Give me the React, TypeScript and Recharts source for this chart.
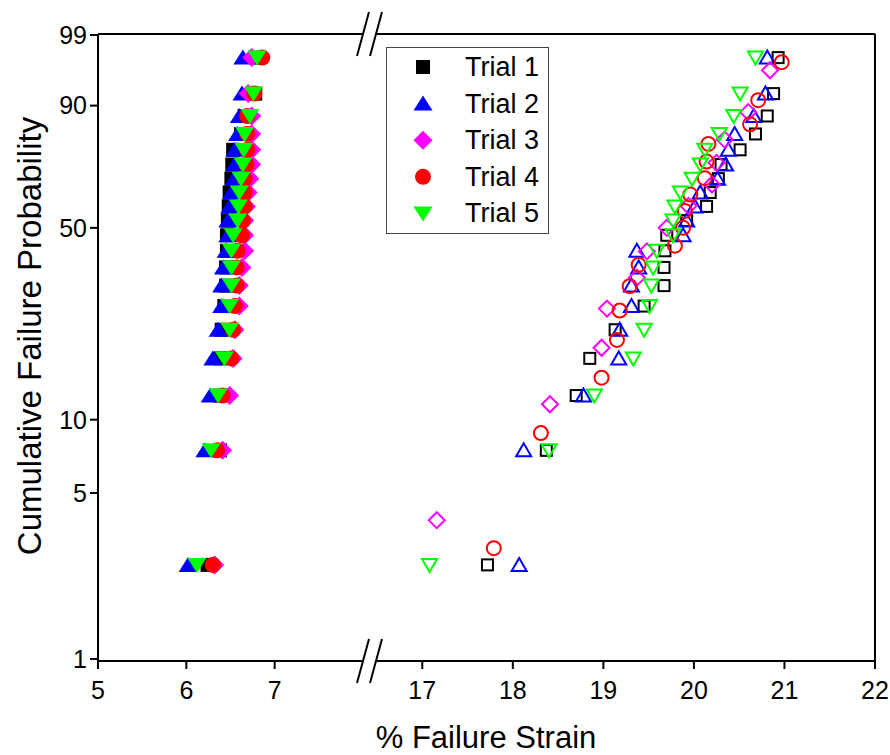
import React from "react";
import { ScatterChart, Scatter, XAxis, YAxis, ReferenceLine, Legend } from "recharts";

const FONT = '"Liberation Sans", Arial, sans-serif';

// probability axis (Weibull paper), values in %
const PROB_TICKS = [1, 5, 10, 50, 90, 99];

// plotting positions (%) for samples of 20, 17 and 13
const POS_20 = [2.5, 7.5, 12.5, 17.5, 22.5, 27.5, 32.5, 37.5, 42.5, 47.5, 52.5, 57.5, 62.5, 67.5, 72.5, 77.5, 82.5, 87.5, 92.5, 97.5];
const POS_17 = [2.94, 8.82, 14.71, 20.59, 26.47, 32.35, 38.24, 44.12, 50.0, 55.88, 61.76, 67.65, 73.53, 79.41, 85.29, 91.18, 97.06];
const POS_13 = [3.85, 11.54, 19.23, 26.92, 34.62, 42.31, 50.0, 57.69, 65.38, 73.08, 80.77, 88.46, 96.15];

const TRIAL_NAMES = ["Trial 1", "Trial 2", "Trial 3", "Trial 4", "Trial 5"];
const TRIAL_COLORS = ["#000000", "#0000ff", "#ff00ff", "#ff0000", "#00ff00"];
const TRIAL_SHAPES = ["square", "triangle", "diamond", "circle", "triangleDown"];

// low-strain failures (%), ranked
const LOW_T1 = [6.24, 6.38, 6.38, 6.39, 6.40, 6.43, 6.45, 6.45, 6.46, 6.46, 6.47, 6.48, 6.49, 6.51, 6.52, 6.53, 6.62, 6.66, 6.78, 6.80];
const LOW_T2 = [6.02, 6.21, 6.27, 6.30, 6.36, 6.40, 6.40, 6.42, 6.45, 6.47, 6.47, 6.49, 6.51, 6.54, 6.55, 6.55, 6.58, 6.60, 6.63, 6.64];
const LOW_T3 = [6.32, 6.41, 6.49, 6.53, 6.55, 6.60, 6.60, 6.63, 6.66, 6.66, 6.66, 6.68, 6.70, 6.72, 6.74, 6.74, 6.74, 6.74, 6.70, 6.74];
const LOW_T4 = [6.30, 6.35, 6.41, 6.51, 6.53, 6.55, 6.57, 6.57, 6.58, 6.63, 6.64, 6.66, 6.66, 6.66, 6.68, 6.69, 6.69, 6.69, 6.77, 6.86];
const LOW_T5 = [6.12, 6.28, 6.36, 6.43, 6.49, 6.49, 6.51, 6.51, 6.51, 6.53, 6.58, 6.59, 6.60, 6.62, 6.64, 6.65, 6.66, 6.72, 6.76, 6.80];

// high-strain failures (%), ranked
const HIGH_T1 = [17.72, 18.37, 18.70, 18.85, 19.13, 19.45, 19.67, 19.67, 19.68, 19.70, 19.92, 20.14, 20.18, 20.27, 20.30, 20.51, 20.68, 20.81, 20.88, 20.93];
const HIGH_T2 = [18.07, 18.12, 18.78, 19.17, 19.18, 19.31, 19.31, 19.39, 19.37, 19.88, 19.92, 20.01, 20.07, 20.26, 20.35, 20.38, 20.45, 20.66, 20.79, 20.81];
const HIGH_T3 = [17.16, 18.41, 18.98, 19.04, 19.37, 19.48, 19.70, 19.94, 20.20, 20.25, 20.34, 20.60, 20.84];
const HIGH_T4 = [17.79, 18.31, 18.98, 19.15, 19.18, 19.29, 19.39, 19.79, 19.88, 19.90, 19.96, 20.12, 20.14, 20.16, 20.62, 20.71, 20.97];
const HIGH_T5 = [17.08, 18.40, 18.90, 19.33, 19.45, 19.51, 19.53, 19.55, 19.59, 19.77, 19.77, 19.79, 19.85, 19.98, 20.07, 20.12, 20.28, 20.44, 20.51, 20.68];

const LOW_TICKS = [5, 6, 7];
const HIGH_TICKS = [17, 18, 19, 20, 21, 22];

const LOW = [LOW_T1, LOW_T2, LOW_T3, LOW_T4, LOW_T5];
const HIGH = [HIGH_T1, HIGH_T2, HIGH_T3, HIGH_T4, HIGH_T5];
const HIGH_POS = [POS_20, POS_20, POS_13, POS_17, POS_20];

const weibull = (pct: number) => Math.log(-Math.log(1 - pct / 100));
const Y_MIN = weibull(1) - 0.02;
const Y_MAX = weibull(99) + 0.01;
const Y_TICKS = PROB_TICKS.map(weibull);

const toPoints = (xs: number[], pos: number[]) => xs.map((x, i) => ({ x, y: weibull(pos[i]) }));

function Marker({ cx, cy, shape, color, filled }: any) {
  if (cx == null || cy == null) return null;
  const fill = filled ? color : "none";
  const stroke = filled ? "none" : color;
  const sw = filled ? 0 : 2;
  if (shape === "square") {
    const h = filled ? 7 : 5.5;
    return <rect x={cx - h} y={cy - h} width={2 * h} height={2 * h} fill={fill} stroke={stroke} strokeWidth={sw} />;
  }
  if (shape === "circle") {
    return <circle cx={cx} cy={cy} r={filled ? 8 : 7} fill={fill} stroke={stroke} strokeWidth={sw} />;
  }
  if (shape === "diamond") {
    const d = filled ? 9.5 : 8;
    return <path d={`M${cx},${cy - d}L${cx + d},${cy}L${cx},${cy + d}L${cx - d},${cy}Z`} fill={fill} stroke={stroke} strokeWidth={sw} />;
  }
  const w = filled ? 9.5 : 7.5;
  const t = filled ? 8 : 7;
  const b = filled ? 7 : 6;
  if (shape === "triangle") {
    return <path d={`M${cx},${cy - t}L${cx + w},${cy + b}L${cx - w},${cy + b}Z`} fill={fill} stroke={stroke} strokeWidth={sw} strokeLinejoin="miter" />;
  }
  return <path d={`M${cx},${cy + t}L${cx + w},${cy - b}L${cx - w},${cy - b}Z`} fill={fill} stroke={stroke} strokeWidth={sw} strokeLinejoin="miter" />;
}

function LegendBox() {
  return (
    <svg width={163} height={187} style={{ display: "block" }}>
      <rect x={0.5} y={0.5} width={162} height={186} fill="#fff" stroke="#444" strokeWidth={1} />
      {TRIAL_NAMES.map((name, i) => (
        <g key={name}>
          <Marker cx={37} cy={20 + i * 36.6} shape={TRIAL_SHAPES[i]} color={TRIAL_COLORS[i]} filled />
          <text x={79} y={20 + i * 36.6} dominantBaseline="central" fontSize={27} fontFamily={FONT} fill="#000">
            {name}
          </text>
        </g>
      ))}
    </svg>
  );
}

const axisStroke = { stroke: "#000", strokeWidth: 2 };
const tickStyle = { fill: "#000", fontSize: 25, fontFamily: FONT };

export default function App() {
  return (
    <div style={{ position: "absolute", left: 0, top: 0, width: 890, height: 755, background: "#fff", overflow: "hidden" }}>
      <div style={{ position: "absolute", left: 0, top: 0 }}>
        <ScatterChart width={370} height={755} margin={{ top: 34, right: 7, bottom: 34, left: 0 }}>
          <XAxis
            type="number"
            dataKey="x"
            domain={[5, 8]}
            ticks={LOW_TICKS}
            allowDataOverflow
            height={60}
            tickSize={8}
            tickMargin={12}
            axisLine={axisStroke}
            tickLine={axisStroke}
            tick={tickStyle}
          />
          <YAxis
            type="number"
            dataKey="y"
            domain={[Y_MIN, Y_MAX]}
            ticks={Y_TICKS}
            allowDataOverflow
            width={98}
            tickSize={8}
            tickMargin={3}
            axisLine={axisStroke}
            tickLine={axisStroke}
            tick={tickStyle}
            tickFormatter={(v: number) => String(PROB_TICKS[Y_TICKS.findIndex((t) => Math.abs(t - v) < 1e-6)] ?? "")}
          />
          <ReferenceLine y={Y_MAX} stroke="#000" strokeWidth={2} />
          {LOW.map((xs, i) => (
            <Scatter
              key={TRIAL_NAMES[i]}
              name={TRIAL_NAMES[i]}
              data={toPoints(xs, POS_20)}
              isAnimationActive={false}
              shape={(p: any) => <Marker cx={p.cx} cy={p.cy} shape={TRIAL_SHAPES[i]} color={TRIAL_COLORS[i]} filled />}
            />
          ))}
        </ScatterChart>
      </div>
      <div style={{ position: "absolute", left: 370, top: 0 }}>
        <ScatterChart width={520} height={755} margin={{ top: 34, right: 15, bottom: 34, left: 7 }}>
          <XAxis
            type="number"
            dataKey="x"
            domain={[16.5, 22]}
            ticks={HIGH_TICKS}
            allowDataOverflow
            height={60}
            tickSize={8}
            tickMargin={12}
            axisLine={axisStroke}
            tickLine={axisStroke}
            tick={tickStyle}
          />
          <YAxis type="number" dataKey="y" domain={[Y_MIN, Y_MAX]} allowDataOverflow hide />
          <ReferenceLine y={Y_MAX} stroke="#000" strokeWidth={2} />
          <ReferenceLine x={22} stroke="#000" strokeWidth={2} />
          {HIGH.map((xs, i) => (
            <Scatter
              key={TRIAL_NAMES[i]}
              name={TRIAL_NAMES[i]}
              data={toPoints(xs, HIGH_POS[i])}
              isAnimationActive={false}
              shape={(p: any) => <Marker cx={p.cx} cy={p.cy} shape={TRIAL_SHAPES[i]} color={TRIAL_COLORS[i]} filled={false} />}
            />
          ))}
          <Legend
            layout="vertical"
            align="center"
            verticalAlign="middle"
            wrapperStyle={{ left: 16, top: 47, width: 163, height: 187 }}
            content={() => <LegendBox />}
          />
        </ScatterChart>
      </div>
      <svg width={890} height={755} style={{ position: "absolute", left: 0, top: 0, pointerEvents: "none" }}>
        {[34, 661].map((cy) =>
          [363, 376].map((cx) => (
            <line key={`${cx}-${cy}`} x1={cx - 6} y1={cy + 22} x2={cx + 6} y2={cy - 22} stroke="#000" strokeWidth={2} />
          ))
        )}
        <text x={486} y={748} textAnchor="middle" fontSize={31} fontFamily={FONT} fill="#000">
          % Failure Strain
        </text>
        <text
          x={29}
          y={336}
          textAnchor="middle"
          dominantBaseline="central"
          fontSize={33}
          fontFamily={FONT}
          fill="#000"
          transform="rotate(-90 29 336)"
        >
          Cumulative Failure Probability
        </text>
      </svg>
    </div>
  );
}
